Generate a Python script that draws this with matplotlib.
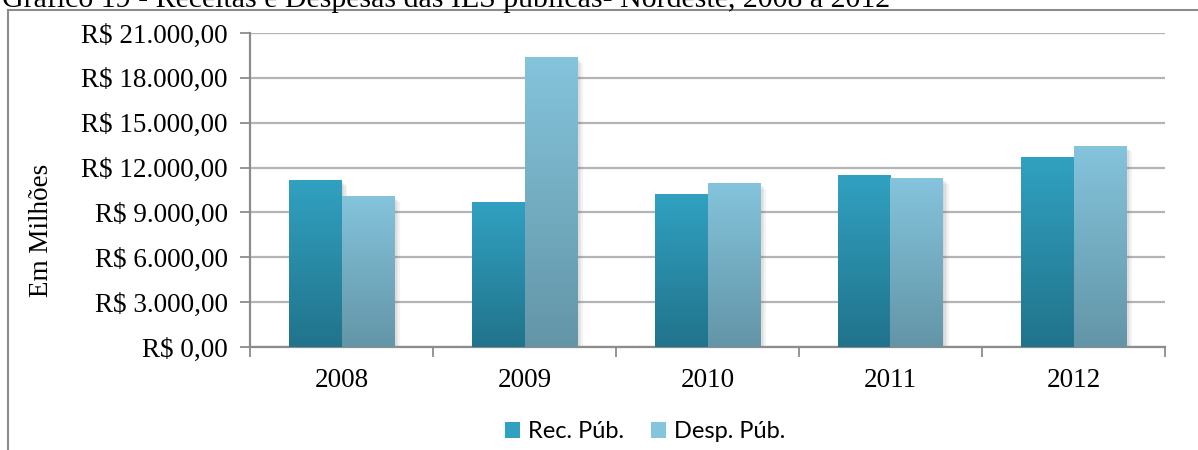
import numpy as np
import matplotlib
matplotlib.use("Agg")
import matplotlib.pyplot as plt
import matplotlib.patheffects as pe
from matplotlib.lines import Line2D
from matplotlib.patches import Patch
from matplotlib.colors import LinearSegmentedColormap
from matplotlib.ticker import FuncFormatter, FixedLocator

anos = ["2008", "2009", "2010", "2011", "2012"]
rec_pub = [11150, 9680, 10220, 11510, 12720]
desp_pub = [10080, 19380, 10950, 11300, 13450]
series_nomes = ["Rec. Púb.", "Desp. Púb."]

titulo = "Gráfico 19 - Receitas e Despesas das IES públicas- Nordeste, 2008 a 2012"
ylabel = "Em Milhões"

# gradientes (topo -> base)
cor_rec = ("#31a1c1", "#21738b")
cor_desp = ("#84c4dc", "#6395a7")
cinza_eixo = "#8c8c8c"
cinza_grade = "#b4b4b4"

serif = ["Liberation Serif", "DejaVu Serif"]
sans = ["Lato", "DejaVu Sans"]


def fmt_real(v, pos=None):
    s = "{:,.2f}".format(v)
    s = s.replace(",", "X").replace(".", ",").replace("X", ".")
    return "R$ " + s


fig = plt.figure(figsize=(11.98, 4.5), dpi=100)
ax = fig.add_axes([250 / 1198, 1 - 347 / 450, 915 / 1198, 314 / 450])

x = np.arange(len(anos))
w = 0.287

bars_rec = ax.bar(x - w / 2, rec_pub, w, color=cor_rec[0], zorder=2)
bars_desp = ax.bar(x + w / 2, desp_pub, w, color=cor_desp[0], zorder=2)

# sombra suave + gradiente vertical em cada barra
sombra = [pe.SimplePatchShadow(offset=(k, -k), shadow_rgbFace="#606060", alpha=0.07)
          for k in (4, 3, 2, 1)] + [pe.Normal()]
grad = np.linspace(0, 1, 256).reshape(-1, 1)
for bars, cores in ((bars_rec, cor_rec), (bars_desp, cor_desp)):
    cmap = LinearSegmentedColormap.from_list("g", [cores[1], cores[0]])
    for b in bars:
        b.set_path_effects(sombra)
        x0, y0 = b.get_x(), b.get_y()
        im = ax.imshow(grad, extent=(x0, x0 + b.get_width(), y0, y0 + b.get_height()),
                       origin="lower", cmap=cmap, aspect="auto", zorder=3)
        im.set_clip_path(b)

ax.set_xlim(-0.5, len(anos) - 0.5)
ax.set_ylim(0, 21000)

ax.yaxis.set_major_locator(FixedLocator(np.arange(0, 21001, 3000)))
ax.yaxis.set_major_formatter(FuncFormatter(fmt_real))
ax.grid(axis="y", color=cinza_grade, linewidth=1.6, zorder=0)
ax.set_axisbelow(True)

ax.set_xticks(x)
ax.set_xticklabels(anos)
ax.set_xticks(np.arange(-0.5, len(anos), 1.0), minor=True)
ax.tick_params(axis="x", which="major", length=0, pad=15, labelsize=19.5)
ax.tick_params(axis="x", which="minor", length=7, width=1.3, color=cinza_eixo)
ax.tick_params(axis="y", length=7, width=1.3, color=cinza_eixo, pad=9, labelsize=19.5)
for lab in ax.get_xticklabels() + ax.get_yticklabels():
    lab.set_family(serif)

for s in ("top", "right"):
    ax.spines[s].set_visible(False)
for s in ("left", "bottom"):
    ax.spines[s].set_color(cinza_eixo)
    ax.spines[s].set_linewidth(1.6)

fig.text(42 / 1198, 1 - 230 / 450, ylabel, rotation=90, ha="center", va="center",
         fontsize=19.5, family=serif)

# legenda
handles = [Patch(facecolor=cor_rec[0], linewidth=0),
           Patch(facecolor=cor_desp[0], linewidth=0)]
fig.legend(handles, series_nomes, loc="center", bbox_to_anchor=(645 / 1198, 1 - 432 / 450),
           ncol=2, frameon=False, prop={"family": sans, "size": 17},
           handlelength=0.64, handleheight=0.64, handletextpad=0.34, columnspacing=1.15)

# moldura e titulo (cortados como no original)
fig.add_artist(Line2D([8 / 1198, 1.0], [1 - 10 / 450, 1 - 10 / 450], transform=fig.transFigure,
                      color=cinza_eixo, linewidth=1.5))
fig.add_artist(Line2D([8 / 1198, 8 / 1198], [0, 1 - 10 / 450], transform=fig.transFigure,
                      color=cinza_eixo, linewidth=1.5))
fig.text(2 / 1198, 1 - 7 / 450, titulo, ha="left", va="baseline", fontsize=21.5, family=serif)

fig.savefig("out.png", dpi=100)
